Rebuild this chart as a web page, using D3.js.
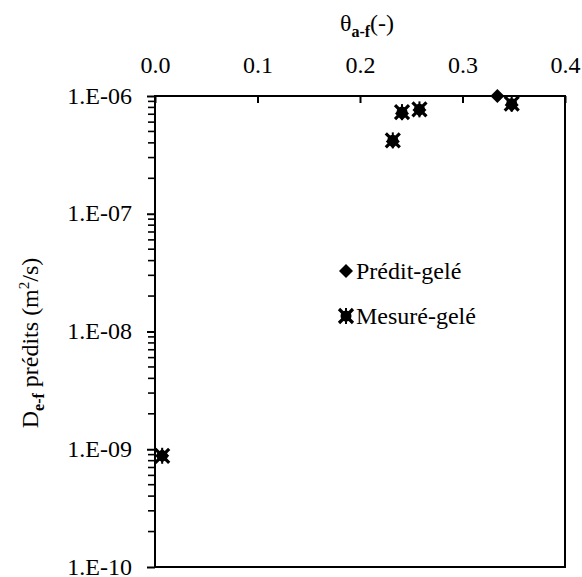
<!DOCTYPE html>
<html><head><meta charset="utf-8">
<script src="https://cdn.jsdelivr.net/npm/d3@7"></script>
<style>body{margin:0;background:#fff;}</style>
</head><body>
<svg id="c" width="582" height="577"></svg>
<script>
const xTicks = [0.0, 0.1, 0.2, 0.3, 0.4];
const xTickLabels = ["0.0", "0.1", "0.2", "0.3", "0.4"];
const yTicks = [1e-10, 1e-9, 1e-8, 1e-7, 1e-6];
const yTickLabels = ["1.E-10", "1.E-09", "1.E-08", "1.E-07", "1.E-06"];
const predTheta = [0.007, 0.232, 0.241, 0.258, 0.334, 0.348];
const predD = [8.8e-10, 4.1e-7, 7.1e-7, 7.6e-7, 1.0e-6, 8.4e-7];
const measTheta = [0.007, 0.232, 0.241, 0.258, 0.348];
const measD = [8.8e-10, 4.2e-7, 7.3e-7, 7.7e-7, 8.6e-7];
const seriesNames = ["Prédit-gelé", "Mesuré-gelé"];

const FONT = "Liberation Serif";
const svg = d3.select("#c");
const L = 155, R = 565, T = 96, B = 567;
const x = d3.scaleLinear().domain([0, 0.4]).range([L, R]);
const y = d3.scaleLog().domain([1e-10, 1e-6]).range([B, T]);

// frame
svg.append("rect").attr("x", L).attr("y", T).attr("width", R - L).attr("height", B - T)
  .attr("fill", "none").attr("stroke", "#000").attr("stroke-width", 2);

// top x axis: inward ticks
const xAxis = d3.axisTop(x).tickValues(xTicks).tickSize(-7).tickFormat((d, i) => xTickLabels[i]);
const gx = svg.append("g").attr("transform", `translate(0,${T})`).call(xAxis).attr("font-family", FONT).attr("font-size", 24);
gx.select(".domain").remove();
gx.selectAll("line").attr("stroke", "#000").attr("stroke-width", 2);
gx.selectAll("text").attr("y", -23).attr("font-size", 24).attr("font-family", FONT).attr("fill", "#000");

// left y axis major + minor ticks outward
const minor = [];
for (let e = -10; e < -6; e++) for (let m = 2; m <= 9; m++) minor.push(m * Math.pow(10, e));
svg.append("g").selectAll("line").data(minor).join("line")
  .attr("x1", L - 7).attr("x2", L).attr("y1", d => y(d)).attr("y2", d => y(d))
  .attr("stroke", "#000").attr("stroke-width", 1.6);
const yAxis = d3.axisLeft(y).tickValues(yTicks).tickSize(8).tickFormat((d, i) => yTickLabels[i]);
const gy = svg.append("g").attr("transform", `translate(${L},0)`).call(yAxis).attr("font-family", FONT).attr("font-size", 24);
gy.select(".domain").remove();
gy.selectAll("line").attr("stroke", "#000").attr("stroke-width", 2);
gy.selectAll("text").attr("x", -23).attr("dy", "0.3em").attr("font-size", 24).attr("font-family", FONT).attr("fill", "#000");

// axis titles
const tx = svg.append("text").attr("x", 367).attr("y", 31).attr("text-anchor", "middle")
  .attr("font-size", 24).attr("font-family", FONT);
tx.append("tspan").text("θ");
tx.append("tspan").attr("font-size", 16).attr("font-weight", "bold").attr("dy", 6).text("a-f");
tx.append("tspan").attr("dy", -6).text("(-)");

const ty = svg.append("text").attr("transform", "translate(38,343) rotate(-90)").attr("text-anchor", "middle")
  .attr("font-size", 24).attr("font-family", FONT);
ty.append("tspan").text("D");
ty.append("tspan").attr("font-size", 16).attr("font-weight", "bold").attr("dy", 6).text("e-f");
ty.append("tspan").attr("dy", -6).text(" prédits (m");
ty.append("tspan").attr("font-size", 15).attr("dy", -9).text("2");
ty.append("tspan").attr("dy", 9).text("/s)");

// markers
function diamondPlain(g, cx, cy) {
  g.append("path").attr("d", `M${cx},${cy-7}L${cx+7},${cy}L${cx},${cy+7}L${cx-7},${cy}Z`).attr("fill", "#000");
}
function star(g, cx, cy) {
  const s = g.append("g").attr("transform", `translate(${cx},${cy})`);
  s.append("circle").attr("r", 5.5).attr("fill", "#000");
  s.append("path").attr("d", "M-7,-7L7,7M7,-7L-7,7").attr("stroke", "#000").attr("stroke-width", 3.2);
  s.append("path").attr("d", "M0,-8L0,8").attr("stroke", "#000").attr("stroke-width", 2);
}
const gp = svg.append("g");
predTheta.forEach((t, i) => diamondPlain(gp, x(t), y(predD[i])));
const gm = svg.append("g");
measTheta.forEach((t, i) => star(gm, x(t), y(measD[i])));

// legend
diamondPlain(svg, 346, 271);
svg.append("text").attr("x", 356).attr("y", 279).attr("font-size", 24).attr("font-family", FONT).text(seriesNames[0]);
star(svg, 346, 316);
svg.append("text").attr("x", 356).attr("y", 324).attr("font-size", 24).attr("font-family", FONT).text(seriesNames[1]);
</script>
</body></html>
